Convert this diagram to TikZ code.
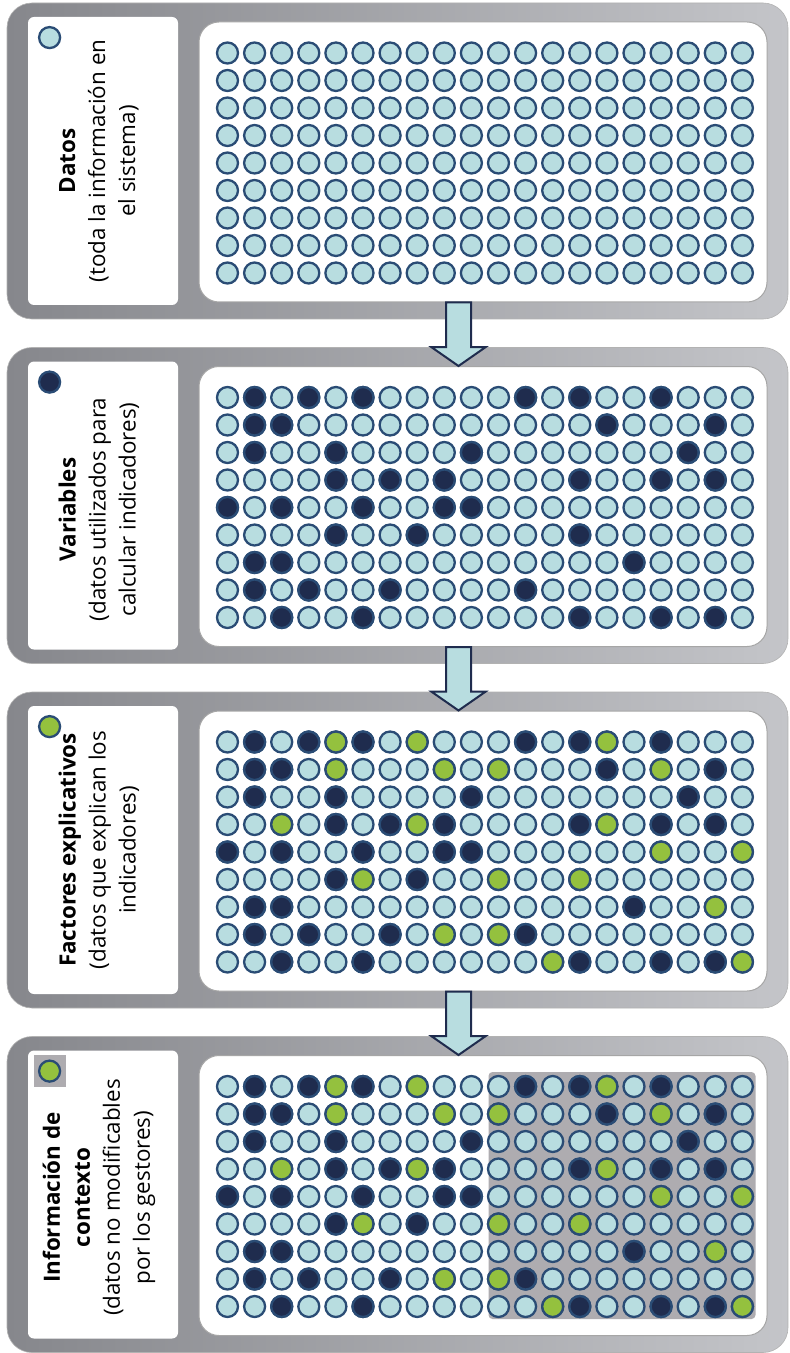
\documentclass[tikz,border=0pt]{standalone}
\usepackage{fontspec}
\setmainfont{Open Sans}
\usetikzlibrary{positioning,calc}

\definecolor{datoazul}{RGB}{184,221,224}
\definecolor{bordeazul}{RGB}{42,76,117}
\definecolor{varazul}{RGB}{31,44,78}
\definecolor{factverde}{RGB}{148,193,62}
\definecolor{grisosc}{RGB}{134,135,140}
\definecolor{griscla}{RGB}{196,197,201}
\definecolor{grissombra}{RGB}{174,172,176}

\begin{document}
\begin{tikzpicture}[x=0.5pt, y=-0.5pt,
  font=\fontsize{11.2}{15}\selectfont,
  panelgris/.style={draw=black!30, line width=0.3pt, left color=grisosc, right color=griscla, rounded corners=12.5pt, minimum width=390.5pt, minimum height=158pt, inner sep=0pt},
  etiqueta/.style={fill=white, rounded corners=3pt, minimum width=75pt, minimum height=144pt, inner sep=0pt},
  rejilla/.style={draw=black!35, line width=0.5pt, fill=white, rounded corners=10pt, minimum width=284pt, minimum height=140pt, inner sep=0pt},
  texto/.style={rotate=90, align=center, inner sep=0pt},
  sombra/.style={fill=grissombra, rounded corners=2pt, inner sep=0pt},
  dato/.style={draw=bordeazul, fill=datoazul, line width=1.15pt},
  varpunto/.style={dato, fill=varazul},
  factpunto/.style={dato, fill=factverde},
  ley/.style={circle, inner sep=0pt, minimum size=10.5pt},
  flecha/.style={draw=varazul, fill=datoazul, line width=1pt}]
\useasboundingbox (0,0) rectangle (790,1353);
\fill[white] (0,0) rectangle (790,1353);

% paneles
\foreach \i/\t in {1/3,2/347.5,3/692,4/1036.5}{
  \node[panelgris] (panel\i) at (397.5,\t+158) {};
  \node[etiqueta] (etiq\i) at (103,\t+158) {};
  \node[rejilla] (rejilla\i) at (483,\t+159) {};
}
\node[sombra, minimum width=133.5pt, minimum height=123.5pt] (sombra4) at ($(rejilla4.center)+(139,0)$) {};

% leyendas y textos
\node[ley, dato] (ley1) at ($(etiq1.north west)+(22,21)$) {};
\node[ley, varpunto] (ley2) at ($(etiq2.north west)+(22,21)$) {};
\node[ley, factpunto] (ley3) at ($(etiq3.north west)+(22,21)$) {};
\node[sombra, minimum size=16pt, rounded corners=0pt] (marco4) at ($(etiq4.north west)+(22,21)$) {};
\node[ley, factpunto] (ley4) at (marco4) {};
\node[texto] (txt1) at ($(etiq1.center)+(-4,0)$) {\textbf{Datos}\\(toda la información en\\el sistema)};
\node[texto] (txt2) at ($(etiq2.center)+(-4,4)$) {\textbf{Variables}\\(datos utilizados para\\calcular indicadores)};
\node[texto] (txt3) at ($(etiq3.center)+(-4,0)$) {\textbf{Factores explicativos}\\(datos que explican los\\indicadores)};
\node[texto] (txt4) at ($(etiq4.center)+(-4,3)$) {\textbf{Información de}\\\textbf{contexto}\\(datos no modificables\\por los gestores)};

% puntos
\foreach \i in {1,...,4}
  \foreach \r in {1,...,9}
    \foreach \c in {1,...,20}
      \filldraw[dato] ($(rejilla\i.center)+(-282.6+27.1*\c,-136.5+27.5*\r)$) circle[radius=5.25pt];
\foreach \i in {2,3,4}
  \foreach \r/\cs in {1/{2,4,6,12,14,17},2/{2,3,15,19},3/{2,5,10,18},4/{5,7,9,14,17,19},5/{1,3,6,9,10},6/{5,8,14},7/{2,3,16},8/{2,4,7,12},9/{3,6,14,17,19}}
    \foreach \c in \cs
      \filldraw[varpunto] ($(rejilla\i.center)+(-282.6+27.1*\c,-136.5+27.5*\r)$) circle[radius=5.25pt];
\foreach \i in {3,4}
  \foreach \r/\cs in {1/{5,8,15},2/{5,9,11,17},4/{3,8,15},5/{17,20},6/{6,11,14},7/{19},8/{9,11},9/{13,20}}
    \foreach \c in \cs
      \filldraw[factpunto] ($(rejilla\i.center)+(-282.6+27.1*\c,-136.5+27.5*\r)$) circle[radius=5.25pt];

% flechas
\foreach \i/\j in {1/2,2/3,3/4}{
  \coordinate (ini\i) at ($(rejilla\i.south)+(-24.5,0)$);
  \coordinate (fin\i) at ($(rejilla\j.north)+(-24.5,0)$);
  \coordinate (base\i) at (ini\i |- panel\j.north);
  \draw[flecha] ($(ini\i)+(-12.5,0)$) -- ($(base\i)+(-12.5,0)$) -- ($(base\i)+(-27,0)$) -- (fin\i)
    -- ($(base\i)+(27,0)$) -- ($(base\i)+(12.5,0)$) -- ($(ini\i)+(12.5,0)$) -- cycle;
}
\end{tikzpicture}
\end{document}
